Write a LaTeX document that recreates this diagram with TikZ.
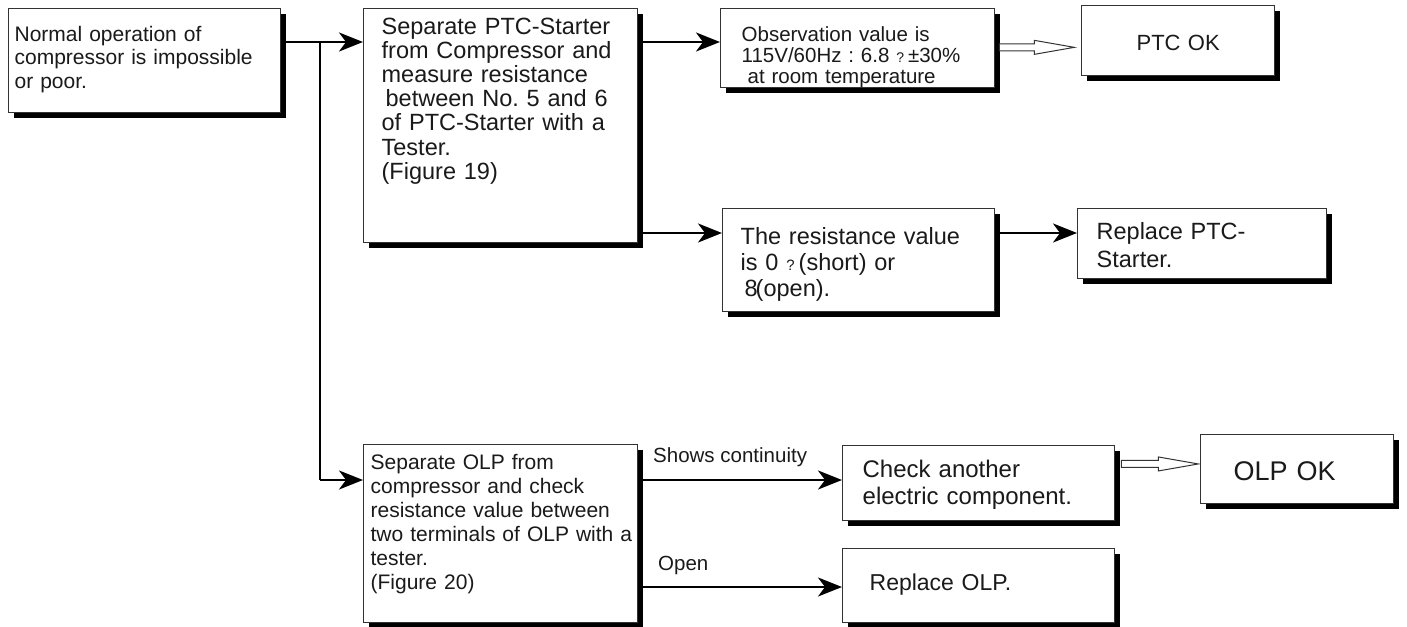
\documentclass[tikz,border=0pt]{standalone}
\usepackage{fontspec}
\setmainfont{Liberation Sans}
\usetikzlibrary{arrows.meta, shadows}
\frenchspacing

\definecolor{boxline}{HTML}{333333}
\definecolor{ink}{HTML}{1A1A1A}

\begin{document}
\begin{tikzpicture}[x=1pt, y=-1pt,
    stepbox/.style={draw=boxline, line width=1.3pt, fill=white, text=ink,
      anchor=north west, inner ysep=0pt, align=left,
      drop shadow={shadow xshift=5pt, shadow yshift=-5pt, fill=black, opacity=1}},
    flow/.style={line width=2pt, -{Stealth[length=24pt, width=19pt, inset=7pt]}},
    hollow/.style={draw=boxline, line width=1pt, fill=white},
    lbl/.style={anchor=west, inner sep=0pt, text=ink, font=\fontsize{20.5}{22}\selectfont}]

    \useasboundingbox (0,0) rectangle (1407,626);

    % Boxes
    \node[stepbox, inner xsep=6pt, text width=260pt, text height=32.5pt, text depth=71.5pt,
      font=\fontsize{21}{23.5}\selectfont] (a) at (8,8)
      {Normal operation of\\compressor is impossible\\or poor.};
    \node[stepbox, inner xsep=18pt, text width=238pt, text height=25.4pt, text depth=208.6pt,
      font=\fontsize{23.5}{24.2}\selectfont] (b) at (363,8)
      {Separate PTC-Starter\\from Compressor and\\measure resistance\\\hspace*{4pt}between No. 5 and 6\\of PTC-Starter with a\\Tester.\\(Figure 19)};
    \node[stepbox, inner xsep=21pt, text width=232pt, text height=32.6pt, text depth=46.4pt,
      font=\fontsize{20.5}{21}\selectfont] (c) at (720,8)
      {Observation value is\\115V/60Hz : 6.8 {\fontsize{14}{14}\selectfont ?}\kern4pt±30\%\\\hspace*{6pt}at room temperature};
    \node[stepbox, inner xsep=10pt, text width=173pt, text height=45pt, text depth=25pt,
      align=center, font=\fontsize{22}{24}\selectfont] (ptcok) at (1081,5) {PTC OK};
    \node[stepbox, inner xsep=18pt, text width=236pt, text height=35.4pt, text depth=67.6pt,
      font=\fontsize{23.5}{26}\selectfont] (d) at (722,208)
      {The resistance value\\is 0 {\fontsize{15}{15}\selectfont ?}\kern4pt(short) or\\\hspace*{4pt}8\kern-2pt(open).};
    \node[stepbox, inner xsep=19pt, text width=211pt, text height=30.5pt, text depth=39.5pt,
      font=\fontsize{23.5}{28}\selectfont] (f) at (1077,208)
      {Replace PTC-\\Starter.};
    \node[stepbox, inner xsep=5pt, text width=264pt, text height=25.2pt, text depth=152.8pt,
      font=\fontsize{21}{24}\selectfont] (e) at (363,444)
      {\hspace*{2pt}Separate OLP from\\\hspace*{2pt}compressor and check\\\hspace*{2pt}resistance value between\\\hspace*{2pt}two terminals of OLP with a\\\hspace*{2pt}tester.\\\hspace*{2pt}(Figure 20)};
    \node[stepbox, inner xsep=20pt, text width=232pt, text height=31.6pt, text depth=43.4pt,
      font=\fontsize{24}{27}\selectfont] (g) at (842,445)
      {Check another\\electric component.};
    \node[stepbox, inner xsep=33pt, text width=127pt, text height=45.7pt, text depth=23.3pt,
      font=\fontsize{27}{29}\selectfont] (olpok) at (1200,434) {OLP OK};
    \node[stepbox, inner xsep=27pt, text width=218pt, text height=42.2pt, text depth=31.8pt,
      font=\fontsize{23}{26}\selectfont] (h) at (842,548) {Replace OLP.};

    % Branch points
    \coordinate (j) at (320,42);
    \coordinate (k) at (320,480);
    \coordinate (dm) at ([yshift=-25pt]d.north west);
    \coordinate (hm) at ([yshift=-39pt]h.north west);

    % Connectors
    \draw[flow] (a.east |- j) -- (b.west |- j);
    \draw[line width=2pt] (j) -- (k);
    \draw[flow] (k) -- (e.west |- k);
    \draw[flow] (b.east |- j) -- (c.west |- j);
    \draw[flow] (b.east |- dm) -- (dm);
    \draw[flow] (d.east |- dm) -- (f.west |- dm);
    \draw[flow] (e.east |- k) -- (g.west |- k);
    \draw[flow] (e.east |- hm) -- (hm);

    \node[lbl] (lcont) at (653,457) {Shows continuity};
    \node[lbl] (lopen) at (658,565) {Open};

    % Hollow arrows
    \draw[hollow] ([xshift=4pt, yshift=4.3pt]c.east) -- ++(35,0) -- ++(0,-3.5) -- ++(40,7)
      -- ++(-40,7) -- ++(0,-3.5) -- ++(-35,0) -- cycle;
    \draw[hollow] ([xshift=6pt, yshift=22.7pt]g.east) -- ++(37,0) -- ++(0,-3.5) -- ++(40,7)
      -- ++(-40,7) -- ++(0,-3.5) -- ++(-37,0) -- cycle;
\end{tikzpicture}
\end{document}
